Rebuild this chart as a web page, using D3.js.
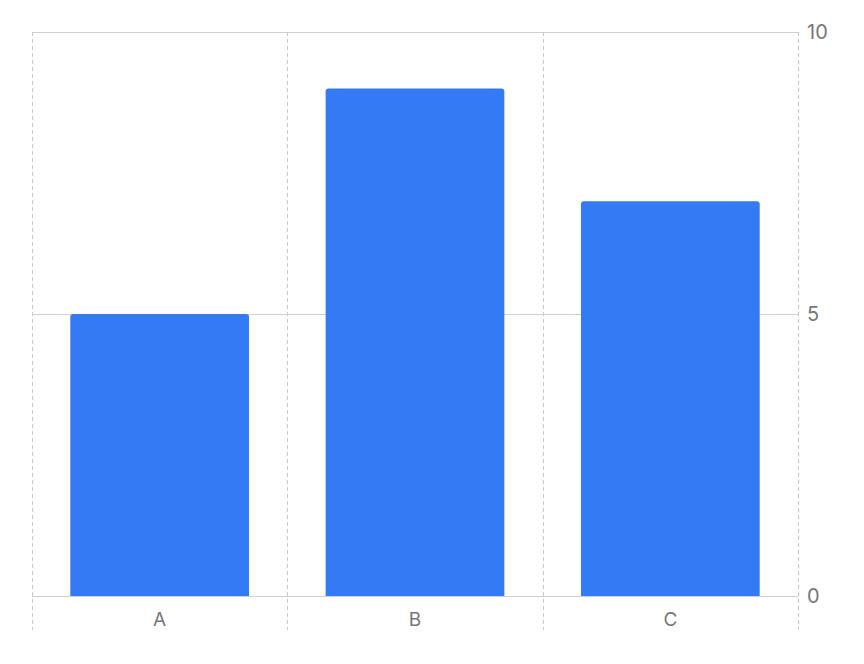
<!DOCTYPE html>
<html><head><meta charset="utf-8">
<script src="https://cdn.jsdelivr.net/npm/d3@7"></script>
<style>body{margin:0;background:#fff;}svg{display:block;}text{font-family:Inter,"Noto Sans",sans-serif;}</style>
</head><body><svg id="c" width="864" height="664"></svg>
<script>
const categories = ["A", "B", "C"];
const values = [5, 9, 7];
const yTicks = [0, 5, 10];

const svg = d3.select("#c");
const pL = 32, pR = 798, pT = 32, pB = 596;
const x = d3.scaleBand().domain(categories).range([pL, pR]).paddingInner(0.3).paddingOuter(0.15);
const y = d3.scaleLinear().domain([0, 10]).range([pB, pT]);

// horizontal gridlines
svg.append("g").selectAll("line").data(yTicks).join("line")
  .attr("x1", pL).attr("x2", pR)
  .attr("y1", d => y(d) + 0.5).attr("y2", d => y(d) + 0.5)
  .attr("stroke", "#d0d0d0").attr("stroke-width", 1.2);

// vertical dashed gridlines at band boundaries
const step = x.step();
const bounds = d3.range(categories.length + 1).map(i => pL + i * step);
svg.append("g").selectAll("line").data(bounds).join("line")
  .attr("x1", d => Math.round(d) + 0.5).attr("x2", d => Math.round(d) + 0.5)
  .attr("y1", pT).attr("y2", 630)
  .attr("stroke", "#c8c8c8").attr("stroke-width", 1).attr("stroke-dasharray", "4,3");

// bars
svg.append("g").selectAll("path").data(categories).join("path")
  .attr("fill", "#357AF5")
  .attr("d", (d, i) => {
    const x0 = x(d), w = x.bandwidth(), y0 = y(values[i]), y1 = y(0), r = 3;
    return `M${x0},${y1}V${y0 + r}Q${x0},${y0} ${x0 + r},${y0}H${x0 + w - r}Q${x0 + w},${y0} ${x0 + w},${y0 + r}V${y1}Z`;
  });

// x labels
svg.append("g").selectAll("text").data(categories).join("text")
  .attr("x", d => x(d) + x.bandwidth() / 2).attr("y", 626)
  .attr("text-anchor", "middle").attr("fill", "#777").attr("font-size", 19)
  .text(d => d);

// y labels
svg.append("g").selectAll("text").data(yTicks).join("text")
  .attr("x", 807).attr("y", d => y(d) + 7)
  .attr("fill", "#777").attr("font-size", 20)
  .text(d => d);
</script></body></html>
